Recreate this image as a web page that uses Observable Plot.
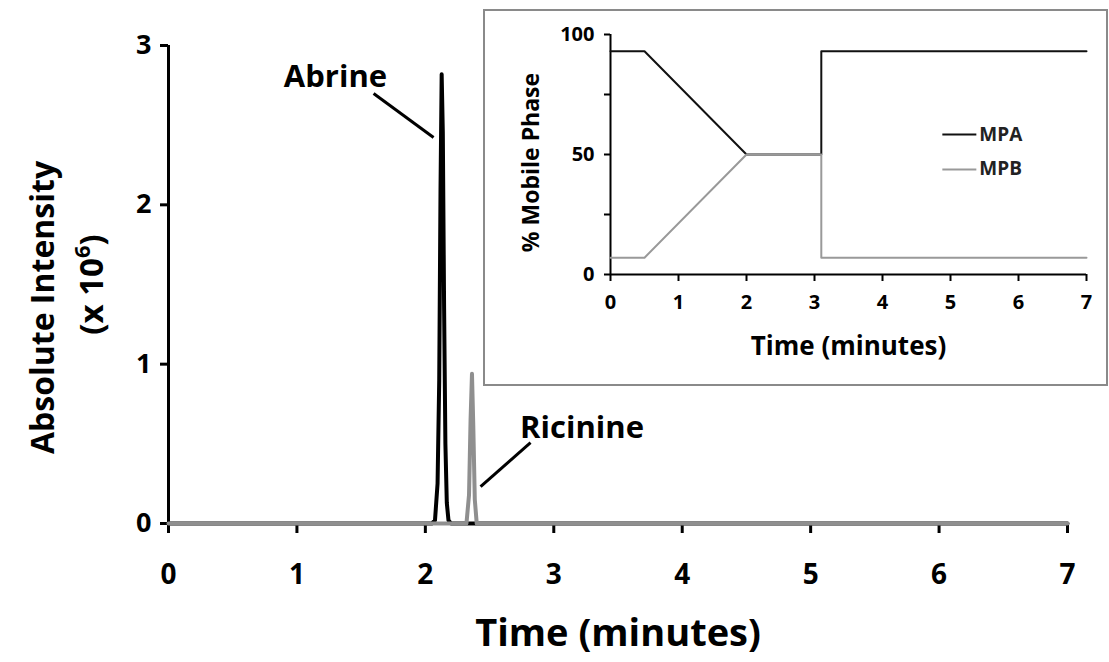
<!DOCTYPE html>
<html><head><meta charset="utf-8">
<script src="https://cdn.jsdelivr.net/npm/d3@7"></script>
<script src="https://cdn.jsdelivr.net/npm/@observablehq/plot@0.6"></script>
<style>
body{margin:0;background:#fff;}
#wrap{position:relative;width:1109px;height:662px;font-family:"Open Sans",sans-serif;}
#main{position:absolute;left:0;top:0;}
#inset{position:absolute;left:483px;top:9px;width:621px;height:373px;border:2px solid #8a8a8a;background:#fff;}
</style></head><body>
<div id="wrap"><div id="main"></div><div id="inset"></div></div>
<script>
// ---- main chromatogram data ----
const abrineTime  = [0, 2.05, 2.075, 2.095, 2.108, 2.118, 2.127, 2.136, 2.146, 2.156, 2.167, 2.18, 2.20, 7];
const abrineValue = [0, 0,    0.02,  0.25,  0.9,   2.1,   2.82,  2.45,  1.35,  0.5,   0.13,  0.02, 0,    0];
const ricinineTime  = [0, 2.32, 2.34, 2.352, 2.363, 2.373, 2.385, 2.40, 7];
const ricinineValue = [0, 0,    0.18, 0.65,  0.94,  0.62,  0.15,  0,    0];
const mainXTicks = [0, 1, 2, 3, 4, 5, 6, 7];
const mainYTicks = [0, 1, 2, 3];
const annoLabels = ["Abrine", "Ricinine"];
const annoTextX  = [1.30, 3.22];
const annoTextY  = [2.80, 0.60];
const annoLineX1 = [1.597, 2.819];
const annoLineY1 = [2.699, 0.508];
const annoLineX2 = [2.064, 2.43];
const annoLineY2 = [2.423, 0.232];

// ---- inset gradient data ----
const mpaTime  = [0, 0.5, 2, 3.1, 3.1, 7];
const mpaValue = [93, 93, 50, 50, 93, 93];
const mpbTime  = [0, 0.5, 2, 3.1, 3.1, 7];
const mpbValue = [7, 7, 50, 50, 7, 7];
const insetXTicks = [0, 1, 2, 3, 4, 5, 6, 7];
const insetYTicks = [0, 25, 50, 75, 100];
const legendNames = ["MPA", "MPB"];
const legendColors = ["#111", "#999"];
const legendX1 = [4.88, 4.88];
const legendX2 = [5.38, 5.38];
const legendY  = [58.3, 43.8];

const BLACK = "#000", GRAY = "#8f8f8f";
const FONT = "'Open Sans', Lato, sans-serif";
const abrine = abrineTime.map((t, i) => ({t, v: abrineValue[i]}));
const ricinine = ricinineTime.map((t, i) => ({t, v: ricinineValue[i]}));
const annos = annoLabels.map((label, i) => ({label, x: annoTextX[i], y: annoTextY[i],
  x1: annoLineX1[i], y1: annoLineY1[i], x2: annoLineX2[i], y2: annoLineY2[i]}));

const main = Plot.plot({
  width: 1109, height: 662,
  marginLeft: 168, marginRight: 42, marginTop: 45, marginBottom: 139,
  style: {fontFamily: FONT, fontWeight: "bold", color: "#000", background: "transparent", overflow: "visible"},
  x: {domain: [0, 7]},
  y: {domain: [0, 3]},
  marks: [
    Plot.axisX({ticks: mainXTicks, tickSize: 10, tickPadding: 31, fontSize: 28, strokeWidth: 3, label: null, tickFormat: d => d}),
    Plot.axisY({ticks: mainYTicks, tickSize: 8, tickPadding: 9, fontSize: 27, strokeWidth: 3, label: null, tickFormat: d => d}),
    Plot.ruleX([0], {stroke: BLACK, strokeWidth: 3}),
    Plot.ruleY([0], {stroke: BLACK, strokeWidth: 3}),
    Plot.line(abrine, {x: "t", y: "v", stroke: BLACK, strokeWidth: 4}),
    Plot.line(ricinine, {x: "t", y: "v", stroke: GRAY, strokeWidth: 4}),
    Plot.link(annos, {x1: "x1", y1: "y1", x2: "x2", y2: "y2", stroke: BLACK, strokeWidth: 3}),
    Plot.text(annos, {x: "x", y: "y", text: "label", fontSize: 31, fontWeight: "bold", fill: BLACK}),
    Plot.text(["Time (minutes)"], {frameAnchor: "bottom", lineAnchor: "middle", dy: 110, fontSize: 38, fontWeight: "bold", fill: BLACK}),
    Plot.text(["Absolute Intensity"], {frameAnchor: "left", textAnchor: "middle", dx: -125, dy: 23, rotate: -90, fontSize: 32, fontWeight: "bold", fill: BLACK}),
    Plot.text(["(x 10⁶)"], {frameAnchor: "left", textAnchor: "middle", dx: -76, rotate: -90, fontSize: 33, fontWeight: "bold", fill: BLACK})
  ]
});
// render the exponent as a real superscript tspan
main.querySelectorAll("text").forEach(el => {
  if (el.textContent === "(x 10⁶)") {
    el.textContent = "(x 10";
    const sup = document.createElementNS("http://www.w3.org/2000/svg", "tspan");
    sup.setAttribute("dy", "-13"); sup.setAttribute("font-size", "22"); sup.textContent = "6";
    const rest = document.createElementNS("http://www.w3.org/2000/svg", "tspan");
    rest.setAttribute("dy", "13"); rest.textContent = ")";
    el.appendChild(sup); el.appendChild(rest);
  }
});
document.getElementById("main").appendChild(main);

const mpa = mpaTime.map((t, i) => ({t, v: mpaValue[i]}));
const mpb = mpbTime.map((t, i) => ({t, v: mpbValue[i]}));
const legend = legendNames.map((name, i) => ({name, color: legendColors[i], x1: legendX1[i], x2: legendX2[i], y: legendY[i]}));

const inset = Plot.plot({
  width: 621, height: 373,
  marginLeft: 125, marginRight: 20, marginTop: 23, marginBottom: 110,
  style: {fontFamily: FONT, fontWeight: "bold", color: "#000", background: "#fff", overflow: "visible"},
  x: {domain: [0, 7]},
  y: {domain: [0, 100]},
  marks: [
    Plot.axisX({ticks: insetXTicks, tickSize: 7, tickPadding: 13, fontSize: 20, strokeWidth: 2, label: null, tickFormat: d => d}),
    Plot.axisY({ticks: insetYTicks, tickSize: 6, tickPadding: 10, fontSize: 20, strokeWidth: 2, label: null, tickFormat: d => d % 50 === 0 ? d : ""}),
    Plot.ruleX([0], {stroke: BLACK, strokeWidth: 2}),
    Plot.ruleY([0], {stroke: BLACK, strokeWidth: 2}),
    Plot.line(mpa, {x: "t", y: "v", stroke: "#111", strokeWidth: 2}),
    Plot.line(mpb, {x: "t", y: "v", stroke: "#999", strokeWidth: 2}),
    Plot.link(legend, {x1: "x1", x2: "x2", y1: "y", y2: "y", stroke: "color", strokeWidth: 2}),
    Plot.text(legend, {x: "x2", y: "y", text: "name", textAnchor: "start", dx: 3, fontSize: 19, fontWeight: "bold", fill: "#222"}),
    Plot.text(["Time (minutes)"], {frameAnchor: "bottom", lineAnchor: "middle", dy: 72, fontSize: 26, fontWeight: "bold", fill: BLACK}),
    Plot.text(["% Mobile Phase"], {frameAnchor: "left", textAnchor: "middle", dx: -79, dy: 8, rotate: -90, fontSize: 23, fontWeight: "bold", fill: BLACK})
  ]
});
document.getElementById("inset").appendChild(inset);
</script>
</body></html>
